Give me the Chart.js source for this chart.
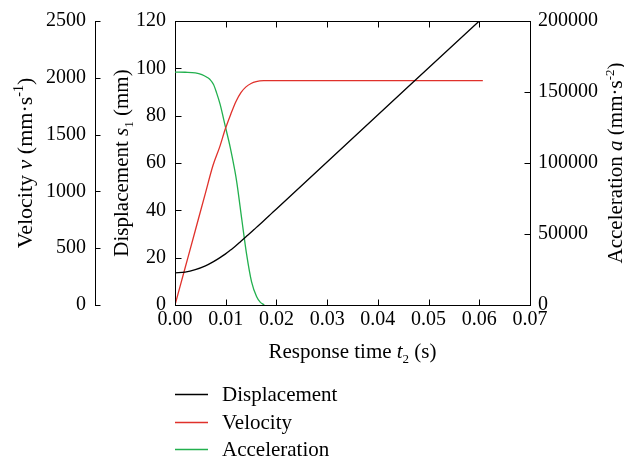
<!DOCTYPE html>
<html>
<head>
<meta charset="utf-8">
<script src="https://cdn.jsdelivr.net/npm/chart.js"></script>
<style>
  html, body { margin: 0; padding: 0; background: #fff; }
</style>
</head>
<body>
<canvas id="chart" width="624" height="460"></canvas>
<script>
// Data
const timeDisp = [0, 0.002, 0.004, 0.006, 0.0075, 0.0088, 0.0099, 0.011, 0.012, 0.013, 0.014, 0.015, 0.016, 0.0175, 0.019, 0.020, 0.060];
const dispValues = [13.6, 13.9, 14.9, 16.5, 18.2, 19.9, 21.5, 23.3, 25.0, 26.9, 28.8, 30.7, 32.7, 35.6, 38.6, 40.6, 120];

const timeVel = [0, 0.002, 0.004, 0.006, 0.0075, 0.0088, 0.0099, 0.011, 0.012, 0.013, 0.014, 0.015, 0.016, 0.0175, 0.019, 0.0607];
const velValues = [0, 328, 656, 985, 1230, 1390, 1547, 1680, 1790, 1870, 1920, 1950, 1966, 1975, 1976, 1976];

const timeAcc = [0, 0.002, 0.004, 0.0053, 0.0063, 0.0069, 0.0076, 0.0082, 0.0089, 0.0099, 0.0109, 0.0118, 0.0122, 0.0132, 0.0141, 0.0151, 0.0161, 0.0168, 0.0176];
const accValues = [164000, 163900, 163500, 162300, 160400, 158800, 155300, 149400, 141300, 126100, 110900, 94600, 86000, 59500, 36200, 16300, 5800, 2000, 0];

// Tick values
const timeTicks = [0, 0.01, 0.02, 0.03, 0.04, 0.05, 0.06, 0.07];
const dispTicks = [0, 20, 40, 60, 80, 100, 120];
const velTicks = [0, 500, 1000, 1500, 2000, 2500];
const accTicks = [0, 50000, 100000, 150000, 200000];

const SERIF = '"Liberation Serif", "DejaVu Serif", serif';
const tickFont = { family: SERIF, size: 20 };
const TITLE_SIZE = 21;

function toPoints(xs, ys) {
  return xs.map((x, i) => ({ x: x, y: ys[i] }));
}

function setTicks(values) {
  return scale => { scale.ticks = values.map(v => ({ value: v })); };
}

// Draw a title made of normal / italic / sub / sup pieces, centred on (x, y)
function drawRich(ctx, parts, x, y, rot, size) {
  const fontFor = p => (p.italic ? 'italic ' : '') + ((p.sup || p.sub) ? Math.round(size * 0.62) : size) + 'px ' + SERIF;
  ctx.save();
  ctx.translate(x, y);
  ctx.rotate(rot);
  ctx.fillStyle = '#000';
  ctx.textAlign = 'left';
  ctx.textBaseline = 'alphabetic';
  let total = 0;
  const widths = parts.map(p => {
    ctx.font = fontFor(p);
    const w = ctx.measureText(p.text).width;
    total += w;
    return w;
  });
  let cx = -total / 2;
  parts.forEach((p, i) => {
    ctx.font = fontFor(p);
    const dy = p.sup ? -size * 0.38 : (p.sub ? size * 0.22 : 0);
    ctx.fillText(p.text, cx, dy);
    cx += widths[i];
  });
  ctx.restore();
}

const xTitle = [{ text: 'Response time ' }, { text: 't', italic: true }, { text: '2', sub: true }, { text: ' (s)' }];
const velTitle = [{ text: 'Velocity ' }, { text: 'v', italic: true }, { text: ' (mm·s' }, { text: '-1', sup: true }, { text: ')' }];
const dispTitle = [{ text: 'Displacement ' }, { text: 's', italic: true }, { text: '1', sub: true }, { text: ' (mm)' }];
const accTitle = [{ text: 'Acceleration ' }, { text: 'a', italic: true }, { text: ' (mm·s' }, { text: '-2', sup: true }, { text: ')' }];

// Frame, inward ticks, axis titles and legend
const decorations = {
  id: 'decorations',
  afterDraw(chart) {
    const ctx = chart.ctx;
    const area = chart.chartArea;
    const { x, yD, yV, yA } = chart.scales;
    const top = Math.round(area.top) + 0.5;
    const bottom = Math.round(area.bottom) + 0.5;
    const left = Math.round(area.left) + 0.5;
    const right = Math.round(area.right) + 0.5;

    ctx.save();
    ctx.strokeStyle = '#000';
    ctx.lineWidth = 1;
    ctx.beginPath();
    ctx.moveTo(left, top);
    ctx.lineTo(right, top);

    timeTicks.forEach(v => {
      const px = Math.round(x.getPixelForValue(v)) + 0.5;
      ctx.moveTo(px, bottom); ctx.lineTo(px, bottom - 6);
      ctx.moveTo(px, top); ctx.lineTo(px, top + 6);
    });
    dispTicks.forEach(v => {
      const py = Math.round(yD.getPixelForValue(v)) + 0.5;
      ctx.moveTo(left, py); ctx.lineTo(left + 6, py);
    });
    accTicks.forEach(v => {
      const py = Math.round(yA.getPixelForValue(v)) + 0.5;
      ctx.moveTo(right, py); ctx.lineTo(right - 6, py);
    });
    const vx = Math.round(yV.right) + 0.5;
    velTicks.forEach(v => {
      const py = Math.round(yV.getPixelForValue(v)) + 0.5;
      ctx.moveTo(vx, py); ctx.lineTo(vx + 5, py);
    });
    ctx.stroke();
    ctx.restore();

    const midY = (area.top + area.bottom) / 2;
    drawRich(ctx, xTitle, (area.left + area.right) / 2, area.bottom + 53, 0, TITLE_SIZE);
    drawRich(ctx, velTitle, yV.left + 31.5, midY, -Math.PI / 2, 22);
    drawRich(ctx, dispTitle, yD.left + 33, midY, -Math.PI / 2, TITLE_SIZE);
    drawRich(ctx, accTitle, yA.right - 2.5, midY, -Math.PI / 2, TITLE_SIZE);

    // Legend, one entry per row under the plot
    ctx.save();
    ctx.font = TITLE_SIZE + 'px ' + SERIF;
    ctx.textAlign = 'left';
    ctx.textBaseline = 'middle';
    chart.data.datasets.forEach((ds, i) => {
      const ly = Math.round(area.bottom + 89 + i * 27.5) + 0.5;
      ctx.strokeStyle = ds.borderColor;
      ctx.lineWidth = 1.5;
      ctx.beginPath();
      ctx.moveTo(area.left, ly);
      ctx.lineTo(area.left + 33, ly);
      ctx.stroke();
      ctx.fillStyle = '#000';
      ctx.fillText(ds.label, area.left + 47, ly + 1);
    });
    ctx.restore();
  }
};

const axisBorder = { display: true, color: '#000', width: 1 };
const noGrid = { drawOnChartArea: false, drawTicks: false };

new Chart(document.getElementById('chart'), {
  type: 'line',
  data: {
    datasets: [
      {
        label: 'Displacement',
        data: toPoints(timeDisp, dispValues),
        yAxisID: 'yD',
        borderColor: '#000000',
        borderWidth: 1.3,
        pointRadius: 0,
        cubicInterpolationMode: 'monotone'
      },
      {
        label: 'Velocity',
        data: toPoints(timeVel, velValues),
        yAxisID: 'yV',
        borderColor: '#e0312b',
        borderWidth: 1.3,
        pointRadius: 0,
        cubicInterpolationMode: 'monotone'
      },
      {
        label: 'Acceleration',
        data: toPoints(timeAcc, accValues),
        yAxisID: 'yA',
        borderColor: '#22b04e',
        borderWidth: 1.3,
        pointRadius: 0,
        cubicInterpolationMode: 'monotone'
      }
    ]
  },
  options: {
    responsive: false,
    animation: false,
    layout: { padding: { top: 19, left: 0, right: 0, bottom: 0 } },
    plugins: {
      legend: { display: false },
      tooltip: { enabled: false }
    },
    scales: {
      x: {
        type: 'linear',
        min: timeTicks[0],
        max: timeTicks[timeTicks.length - 1],
        afterBuildTicks: setTicks(timeTicks),
        afterFit: s => { s.height = 155; },
        grid: noGrid,
        border: axisBorder,
        ticks: {
          autoSkip: false, maxRotation: 0, padding: 3,
          color: '#000', font: tickFont,
          callback: v => v.toFixed(2)
        }
      },
      yV: {
        type: 'linear',
        position: 'left',
        weight: 2,
        min: velTicks[0],
        max: velTicks[velTicks.length - 1],
        afterBuildTicks: setTicks(velTicks),
        afterFit: s => { s.width = 95; },
        grid: noGrid,
        border: axisBorder,
        ticks: { autoSkip: false, padding: 9, color: '#000', font: tickFont, callback: v => String(v) }
      },
      yD: {
        type: 'linear',
        position: 'left',
        weight: 1,
        min: dispTicks[0],
        max: dispTicks[dispTicks.length - 1],
        afterBuildTicks: setTicks(dispTicks),
        afterFit: s => { s.width = 80; },
        grid: noGrid,
        border: axisBorder,
        ticks: { autoSkip: false, padding: 9, color: '#000', font: tickFont, callback: v => String(v) }
      },
      yA: {
        type: 'linear',
        position: 'right',
        min: accTicks[0],
        max: accTicks[accTicks.length - 1],
        afterBuildTicks: setTicks(accTicks),
        afterFit: s => { s.width = 94; },
        grid: noGrid,
        border: axisBorder,
        ticks: { autoSkip: false, padding: 8, color: '#000', font: tickFont, callback: v => String(v) }
      }
    }
  },
  plugins: [decorations]
});
</script>
</body>
</html>
